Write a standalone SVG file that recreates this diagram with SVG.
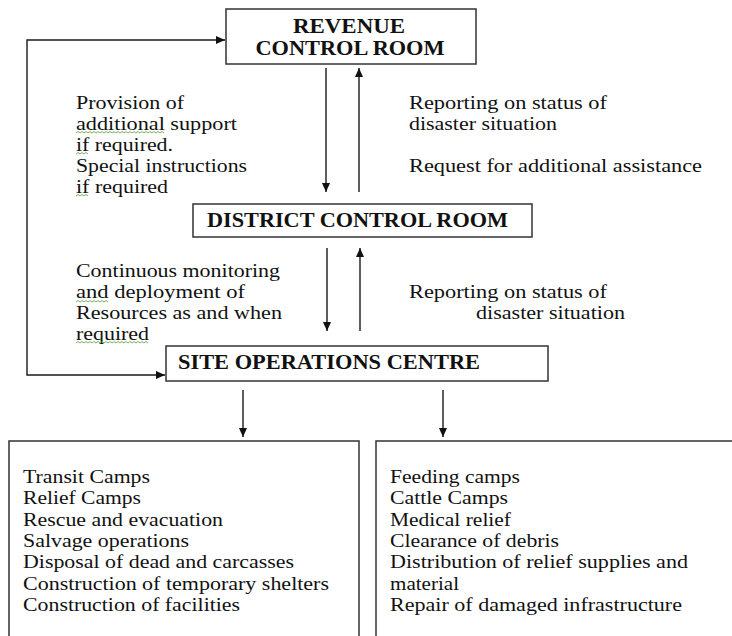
<svg xmlns="http://www.w3.org/2000/svg" width="732" height="636" viewBox="0 0 732 636">
<style>
.box{fill:#fff;stroke:#333;stroke-width:1.5}
.ln{fill:none;stroke:#1a1a1a;stroke-width:1.4}
.t{font-family:"Liberation Serif","Times New Roman",serif;font-size:19px;fill:#111}
.h{font-family:"Liberation Serif","Times New Roman",serif;font-size:22px;font-weight:bold;fill:#111}
.h2{font-family:"Liberation Serif","Times New Roman",serif;font-size:20px;font-weight:bold;fill:#111}
.sq{fill:none;stroke:#6aa84f;stroke-width:0.9}
</style>
<defs>
<marker id="ah" markerUnits="userSpaceOnUse" markerWidth="10" markerHeight="10" refX="9" refY="5" orient="auto">
<path d="M0,1 L9,5 L0,9 Z" fill="#111"/>
</marker>
</defs>
<rect width="732" height="636" fill="#fff"/>

<g id="revenue">
<rect class="box" x="226" y="9" width="250" height="55"/>
<text class="h2" x="349" y="33" text-anchor="middle" textLength="112" lengthAdjust="spacingAndGlyphs">REVENUE</text>
<text class="h2" x="350" y="55" text-anchor="middle" textLength="189" lengthAdjust="spacingAndGlyphs">CONTROL ROOM</text>
</g>

<g id="district">
<rect class="box" x="193" y="204" width="339" height="33"/>
<text class="h" x="207" y="227" textLength="301" lengthAdjust="spacingAndGlyphs">DISTRICT CONTROL ROOM</text>
</g>

<g id="site">
<rect class="box" x="166" y="346" width="382" height="35"/>
<text class="h" x="178" y="369" textLength="302" lengthAdjust="spacingAndGlyphs">SITE OPERATIONS CENTRE</text>
</g>

<g id="left-tasks">
<rect class="box" x="9" y="441" width="350" height="205"/>
<text class="t" x="23" y="483" textLength="127" lengthAdjust="spacingAndGlyphs">Transit Camps</text>
<text class="t" x="23" y="504" textLength="118" lengthAdjust="spacingAndGlyphs">Relief Camps</text>
<text class="t" x="23" y="526" textLength="200" lengthAdjust="spacingAndGlyphs">Rescue and evacuation</text>
<text class="t" x="23" y="547" textLength="166" lengthAdjust="spacingAndGlyphs">Salvage operations</text>
<text class="t" x="23" y="568" textLength="271" lengthAdjust="spacingAndGlyphs">Disposal of dead and carcasses</text>
<text class="t" x="23" y="590" textLength="306" lengthAdjust="spacingAndGlyphs">Construction of temporary shelters</text>
<text class="t" x="23" y="611" textLength="217" lengthAdjust="spacingAndGlyphs">Construction of facilities</text>
</g>

<g id="right-tasks">
<rect class="box" x="376" y="441" width="370" height="205"/>
<text class="t" x="390" y="483" textLength="130" lengthAdjust="spacingAndGlyphs">Feeding camps</text>
<text class="t" x="390" y="504" textLength="118" lengthAdjust="spacingAndGlyphs">Cattle Camps</text>
<text class="t" x="390" y="526" textLength="121" lengthAdjust="spacingAndGlyphs">Medical relief</text>
<text class="t" x="390" y="547" textLength="169" lengthAdjust="spacingAndGlyphs">Clearance of debris</text>
<text class="t" x="390" y="568" textLength="298" lengthAdjust="spacingAndGlyphs">Distribution of relief supplies  and</text>
<text class="t" x="390" y="590" textLength="69" lengthAdjust="spacingAndGlyphs">material</text>
<text class="t" x="390" y="611" textLength="292" lengthAdjust="spacingAndGlyphs">Repair of damaged infrastructure</text>
</g>

<g id="connectors">
<path class="ln" d="M27,200 V40 H225" marker-end="url(#ah)"/>
<path class="ln" d="M27,200 V375 H165" marker-end="url(#ah)"/>
<line class="ln" x1="326" y1="68" x2="326" y2="192" marker-end="url(#ah)"/>
<line class="ln" x1="359" y1="192" x2="359" y2="68" marker-end="url(#ah)"/>
<line class="ln" x1="327" y1="248" x2="327" y2="331" marker-end="url(#ah)"/>
<line class="ln" x1="360" y1="331" x2="360" y2="248" marker-end="url(#ah)"/>
<line class="ln" x1="243" y1="390" x2="243" y2="437" marker-end="url(#ah)"/>
<line class="ln" x1="443" y1="390" x2="443" y2="437" marker-end="url(#ah)"/>
</g>

<g id="labels">
<text class="t" x="76" y="109" textLength="108" lengthAdjust="spacingAndGlyphs">Provision of</text>
<text class="t" x="76" y="130" textLength="161" lengthAdjust="spacingAndGlyphs">additional support</text>
<text class="t" x="76" y="151" textLength="97" lengthAdjust="spacingAndGlyphs">if required.</text>
<text class="t" x="76" y="172" textLength="171" lengthAdjust="spacingAndGlyphs">Special instructions</text>
<text class="t" x="76" y="193" textLength="92" lengthAdjust="spacingAndGlyphs">if required</text>

<text class="t" x="409" y="109" textLength="198" lengthAdjust="spacingAndGlyphs">Reporting on status of</text>
<text class="t" x="409" y="130" textLength="148" lengthAdjust="spacingAndGlyphs">disaster situation</text>
<text class="t" x="409" y="172" textLength="293" lengthAdjust="spacingAndGlyphs">Request for additional assistance</text>

<text class="t" x="76" y="277" textLength="204" lengthAdjust="spacingAndGlyphs">Continuous monitoring</text>
<text class="t" x="76" y="298" textLength="169" lengthAdjust="spacingAndGlyphs">and deployment of</text>
<text class="t" x="76" y="319" textLength="206" lengthAdjust="spacingAndGlyphs">Resources as and when</text>
<text class="t" x="76" y="340" textLength="73" lengthAdjust="spacingAndGlyphs">required</text>

<text class="t" x="409" y="298" textLength="198" lengthAdjust="spacingAndGlyphs">Reporting on status of</text>
<text class="t" x="476" y="319" textLength="149" lengthAdjust="spacingAndGlyphs">disaster situation</text>
</g>

<g id="spellcheck">
<path class="sq" d="M76,133 l2,-1.5 l2,1.5 l2,-1.5 l2,1.5 l2,-1.5 l2,1.5 l2,-1.5 l2,1.5 l2,-1.5 l2,1.5 l2,-1.5 l2,1.5 l2,-1.5 l2,1.5 l2,-1.5 l2,1.5 l2,-1.5 l2,1.5 l2,-1.5 l2,1.5 l2,-1.5 l2,1.5 l2,-1.5 l2,1.5 l2,-1.5 l2,1.5 l2,-1.5 l2,1.5 l2,-1.5 l2,1.5 l2,-1.5 l2,1.5 l2,-1.5 l2,1.5 l2,-1.5 l2,1.5 l2,-1.5 l2,1.5 l2,-1.5 l2,1.5 l2,-1.5 l2,1.5 l2,-1.5 l2,1.5"/>
<path class="sq" d="M76,154 l2,-1.5 l2,1.5 l2,-1.5 l2,1.5 l2,-1.5 l2,1.5"/>
<path class="sq" d="M76,196 l2,-1.5 l2,1.5 l2,-1.5 l2,1.5 l2,-1.5 l2,1.5"/>
<path class="sq" d="M76,302 l2,-1.5 l2,1.5 l2,-1.5 l2,1.5 l2,-1.5 l2,1.5 l2,-1.5 l2,1.5 l2,-1.5 l2,1.5 l2,-1.5 l2,1.5 l2,-1.5 l2,1.5 l2,-1.5 l2,1.5"/>
<path class="sq" d="M76,343 l2,-1.5 l2,1.5 l2,-1.5 l2,1.5 l2,-1.5 l2,1.5 l2,-1.5 l2,1.5 l2,-1.5 l2,1.5 l2,-1.5 l2,1.5 l2,-1.5 l2,1.5 l2,-1.5 l2,1.5 l2,-1.5 l2,1.5 l2,-1.5 l2,1.5 l2,-1.5 l2,1.5 l2,-1.5 l2,1.5 l2,-1.5 l2,1.5 l2,-1.5 l2,1.5 l2,-1.5 l2,1.5 l2,-1.5 l2,1.5 l2,-1.5 l2,1.5 l2,-1.5 l2,1.5"/>
</g>
</svg>
